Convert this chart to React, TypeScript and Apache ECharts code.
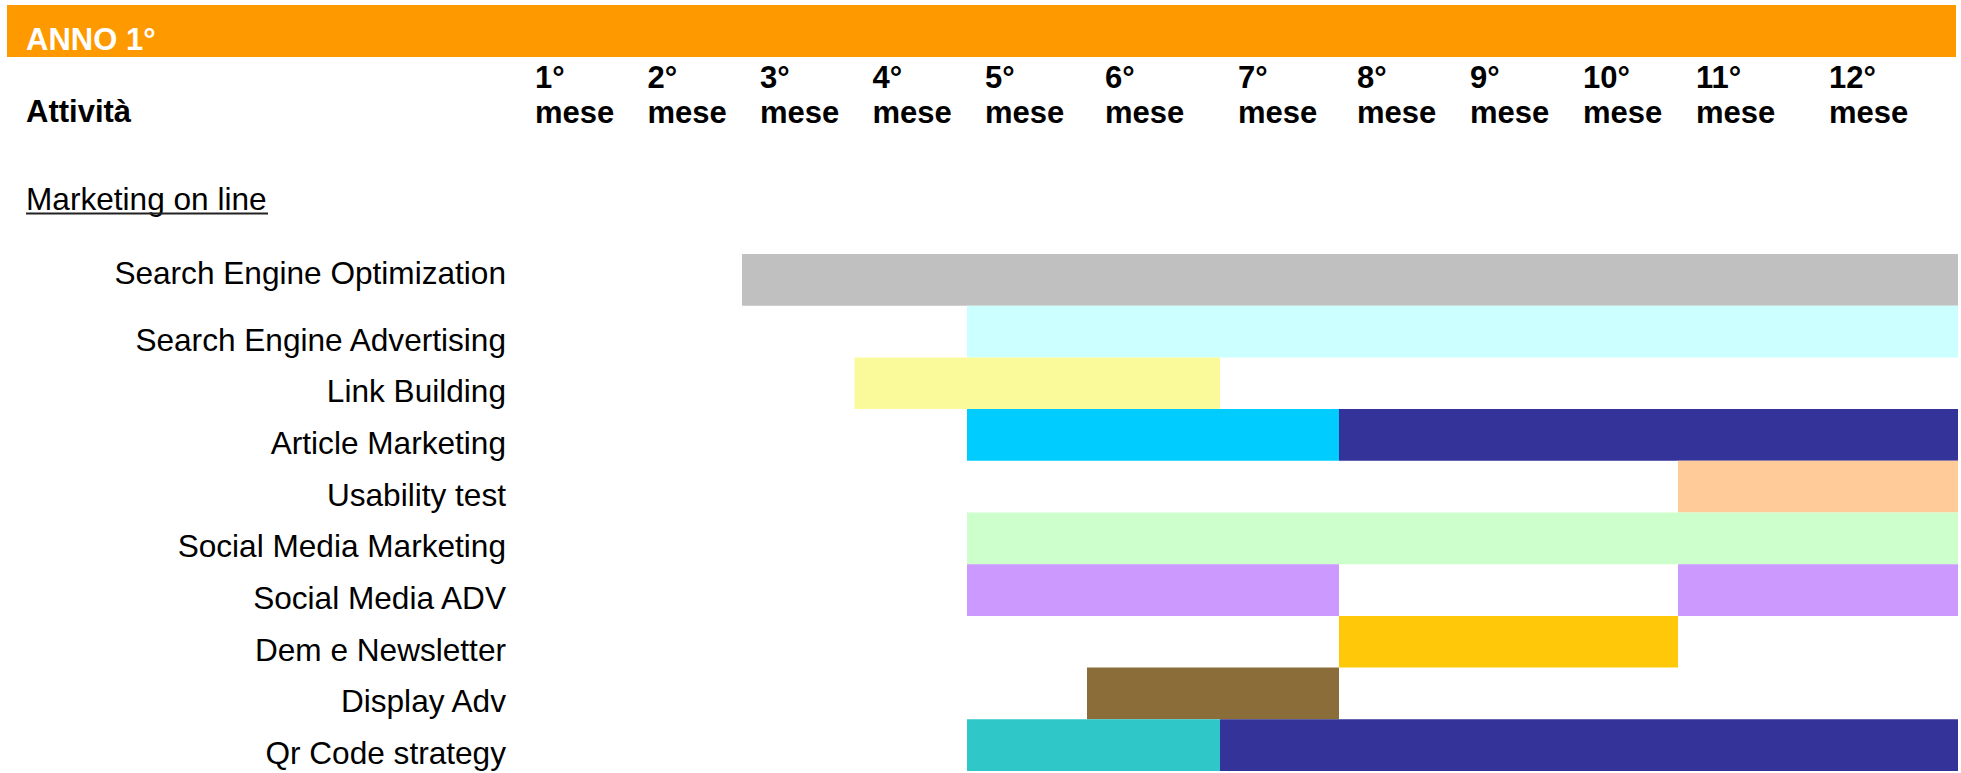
import React, { useEffect, useRef } from "react";
import * as echarts from "echarts";

// ---- data ----
const activities = [
  "Search Engine Optimization",
  "Search Engine Advertising",
  "Link Building",
  "Article Marketing",
  "Usability test",
  "Social Media Marketing",
  "Social Media ADV",
  "Dem e Newsletter",
  "Display Adv",
  "Qr Code strategy",
];
const monthLabels = ["1°", "2°", "3°", "4°", "5°", "6°", "7°", "8°", "9°", "10°", "11°", "12°"];
// each segment: activity index, first month, last month (inclusive)
const segActivity = [0, 1, 2, 3, 3, 4, 5, 6, 6, 7, 8, 9, 9];
const segStartMonth = [3, 5, 4, 5, 8, 11, 5, 5, 11, 8, 6, 5, 7];
const segEndMonth = [12, 12, 6, 7, 12, 12, 12, 7, 12, 10, 7, 6, 12];

// ---- styles / layout ----
const SEG_COLORS = [
  "#C0C0C0", "#CCFFFF", "#FAFA9B", "#00CCFF", "#333399", "#FFCC99",
  "#CCFFCC", "#CC99FF", "#CC99FF", "#FFC90A", "#8B6D39", "#30C7C8", "#333399",
];
// widths of the month columns (spreadsheet-like, not uniform)
const COL_WIDTHS = [112.5, 112.5, 112.5, 112.5, 120, 133, 119, 113, 113, 113, 133, 147];
const EDGES: number[] = [0];
COL_WIDTHS.forEach((w, i) => EDGES.push(EDGES[i] + w));
const FONT = "Liberation Sans";
const FS = 31.6;

export default function App() {
  const ref = useRef<HTMLDivElement>(null);
  useEffect(() => {
    document.body.style.margin = "0";
    const chart = echarts.init(ref.current!, undefined, { renderer: "svg" });
    const data = segActivity.map((a, i) => [segStartMonth[i], segEndMonth[i], a, i]);
    chart.setOption({
      animation: false,
      backgroundColor: "#ffffff",
      grid: { left: 517, right: 3, top: 254, bottom: 2, containLabel: false },
      xAxis: {
        type: "value",
        position: "top",
        min: 0,
        max: EDGES[EDGES.length - 1],
        axisLine: { show: false },
        axisTick: { show: false },
        splitLine: { show: false },
        axisLabel: {
          show: true,
          customValues: EDGES.slice(0, 12).map((e) => e + 18),
          formatter: (v: number) => {
            let k = 0;
            for (let j = 0; j < 12; j++) if (Math.abs(EDGES[j] + 18 - v) < 1) k = j;
            return monthLabels[k] + "\nmese";
          },
          align: "left",
          verticalAlign: "bottom",
          margin: 124,
          fontFamily: FONT,
          fontWeight: "bold",
          fontSize: 31,
          lineHeight: 35,
          color: "#000",
          showMinLabel: true,
          showMaxLabel: true,
          hideOverlap: false,
        },
      },
      yAxis: {
        type: "category",
        inverse: true,
        data: activities,
        axisLine: { show: false },
        axisTick: { show: false },
        splitLine: { show: false },
        axisLabel: {
          margin: 11,
          interval: 0,
          formatter: (v: string, i: number) => (i === 0 ? "{u|" + v + "}" : "{d|" + v + "}"),
          rich: {
            d: { fontFamily: FONT, fontSize: FS, color: "#000", padding: [16, 0, 0, 0] },
            u: { fontFamily: FONT, fontSize: FS, color: "#000", padding: [0, 0, 14, 0] },
          },
        },
      },
      series: [
        {
          type: "custom",
          data,
          encode: { x: [0, 1], y: 2 },
          renderItem: (params: any, api: any) => {
            const s = api.value(0) as number;
            const e = api.value(1) as number;
            const row = api.value(2) as number;
            const ci = api.value(3) as number;
            const p0 = api.coord([EDGES[s - 1], row]);
            const p1 = api.coord([EDGES[e], row]);
            const h = api.size([0, 1])[1];
            return {
              type: "rect",
              shape: { x: p0[0], y: p0[1] - h / 2, width: p1[0] - p0[0], height: h },
              style: { fill: SEG_COLORS[ci] },
            };
          },
        },
      ],
      graphic: [
        { type: "rect", shape: { x: 7, y: 5, width: 1949, height: 52 }, style: { fill: "#FF9900" } },
        {
          type: "text",
          x: 26,
          y: 39,
          style: { text: "ANNO 1°", fill: "#fff", font: `bold 31px "${FONT}"`, verticalAlign: "middle" },
        },
        {
          type: "text",
          x: 26,
          y: 111.5,
          style: { text: "Attività", fill: "#000", font: `bold 31px "${FONT}"`, verticalAlign: "middle" },
        },
        {
          type: "text",
          x: 26,
          y: 199,
          style: { text: "Marketing on line", fill: "#000", font: `${FS}px "${FONT}"`, verticalAlign: "middle" },
        },
        {
          type: "line",
          shape: { x1: 26, y1: 213.5, x2: 268, y2: 213.5 },
          style: { stroke: "#222", lineWidth: 2 },
        },
      ],
    });
    return () => chart.dispose();
  }, []);
  return <div ref={ref} style={{ width: 1961, height: 773 }} />;
}
